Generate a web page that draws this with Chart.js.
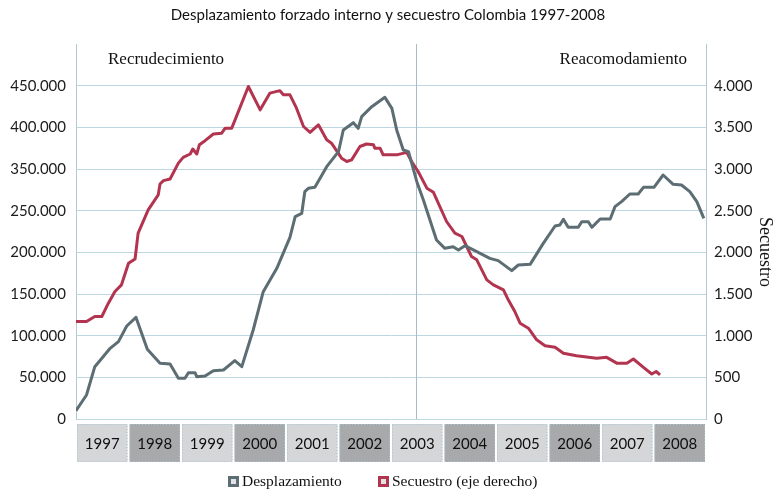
<!DOCTYPE html>
<html>
<head>
<meta charset="utf-8">
<script src="https://cdn.jsdelivr.net/npm/chart.js@4.4.1/dist/chart.umd.min.js"></script>
<style>
  html, body { margin: 0; padding: 0; background: #fff; }
</style>
</head>
<body>
<canvas id="chart" width="776" height="490"></canvas>
<script>
// months counted from Jan 1997 (0) to Dec 2008 (144)
const years = ["1997", "1998", "1999", "2000", "2001", "2002", "2003", "2004", "2005", "2006", "2007", "2008"];

const despMonths = [0, 2.4, 4.3, 6.2, 7.8, 9.7, 11.6, 13.7, 16.3, 19.2, 21.5, 23.4, 24.9, 25.7, 27.2, 27.6, 29.5, 31.4, 33.7, 36.3,
  37.9, 40.5, 42.8, 45.9, 48.9, 50.1, 51.6, 52.3, 53.1, 54.6, 57.3, 60.0, 61.1, 63.4, 64.5, 65.3, 67.6, 70.6, 72.2, 73.3,
  74.8, 76.0, 77.9, 79.4, 82.4, 84.3, 86.2, 87.4, 88.9, 91.6, 94.6, 96.5, 99.6, 101.1, 103.8, 106.8, 109.5, 110.6, 111.4, 112.5,
  114.8, 115.6, 117.1, 117.9, 119.8, 122.1, 123.2, 124.7, 126.6, 128.5, 129.7, 132.1, 134.2, 136.5, 138.4, 140.3, 141.9, 143.5];
const despValues = [10000, 28800, 62800, 74800, 84800, 92800, 111600, 122000, 83600, 66800, 66000, 48800, 48800, 55600, 55600, 50800, 51600, 58000, 58800, 70000,
  62800, 106800, 152800, 180800, 218000, 242800, 246800, 272800, 276800, 278000, 302800, 320800, 346800, 355600, 348800, 362800, 374800, 386000, 372800, 346800,
  322800, 320800, 284800, 262800, 214800, 204800, 206800, 202800, 208000, 200800, 192800, 190000, 178000, 184800, 185600, 210800, 231600, 232800, 239600, 230000,
  230000, 236800, 236800, 230000, 240000, 240000, 254800, 260800, 270000, 270000, 278000, 278000, 292800, 281600, 280800, 272800, 260800, 240800];

const secMonths = [0, 2.4, 4.3, 5.9, 7.4, 8.9, 10.4, 12.0, 13.5, 14.2, 16.5, 18.8, 19.2, 20.0, 21.5, 23.4, 24.5, 26.1, 26.7, 27.6,
  28.2, 29.5, 31.4, 33.3, 34.1, 35.6, 39.4, 42.1, 44.3, 46.6, 47.4, 48.9, 50.4, 52.0, 53.5, 55.4, 57.3, 58.4, 60.7, 61.9,
  63.0, 64.9, 66.4, 68.0, 68.3, 69.5, 70.2, 73.3, 75.6, 76.7, 78.2, 80.2, 81.7, 84.7, 86.6, 88.2, 90.4, 91.6, 93.9, 95.4,
  97.7, 98.8, 100.3, 101.5, 103.4, 105.3, 107.2, 109.5, 111.4, 114.4, 119.0, 121.3, 123.6, 125.9, 127.4, 129.7, 131.6, 132.6, 133.5];
const secValues = [1170, 1170, 1230, 1230, 1390, 1530, 1610, 1870, 1920, 2230, 2510, 2690, 2820, 2860, 2880, 3070, 3140, 3180, 3240, 3180,
  3290, 3340, 3420, 3430, 3490, 3490, 3990, 3710, 3910, 3940, 3890, 3890, 3730, 3510, 3440, 3530, 3350, 3310, 3130, 3090,
  3110, 3270, 3300, 3290, 3250, 3250, 3170, 3170, 3200, 3090, 2970, 2770, 2720, 2370, 2230, 2190, 1950, 1910, 1670, 1610,
  1550, 1430, 1290, 1150, 1090, 950, 880, 860, 790, 760, 730, 740, 670, 670, 720, 620, 540, 570, 530];

// tick labels as printed (the left axis skips 300.000)
const leftLabels = ["0", "50.000", "100.000", "150.000", "200.000", "250.000", "350.000", "400.000", "450.000"];
const rightLabels = ["0", "500", "1.000", "1.500", "2.000", "2.500", "3.000", "3.500", "4.000"];

const dividerMonth = 77.6;
const chartTitle = "Desplazamiento forzado interno y secuestro Colombia 1997-2008";
const leftPeriod = "Recrudecimiento";
const rightPeriod = "Reacomodamiento";
const rightAxisTitle = "Secuestro";

const GREY = "#5c6d73";
const RED = "#b3344f";
const GRID = "#bcd6e2";
const BORDER = "#b3c9d3";
const SERIF = '"Liberation Serif", "Times New Roman", serif';
const SANS = 'Lato, "Open Sans", sans-serif';

const extras = {
  id: "extras",
  beforeDatasetsDraw(chart) {
    const { ctx, chartArea: a, scales: { x } } = chart;
    const px = Math.round(x.getPixelForValue(dividerMonth)) + 0.5;
    ctx.save();
    ctx.strokeStyle = "#a9bcc6";
    ctx.lineWidth = 1;
    ctx.beginPath();
    ctx.moveTo(px, a.top);
    ctx.lineTo(px, a.bottom);
    ctx.stroke();

    ctx.font = "17px " + SERIF;
    ctx.fillStyle = "#111";
    ctx.textBaseline = "middle";
    ctx.textAlign = "left";
    ctx.fillText(leftPeriod, a.left + 32, a.top + 16);
    ctx.textAlign = "right";
    ctx.fillText(rightPeriod, a.right - 19, a.top + 16);
    ctx.restore();
  },
  afterDraw(chart) {
    const { ctx, chartArea: a, scales: { x } } = chart;
    ctx.save();
    // year boxes under the plot
    const top = a.bottom + 5, h = 38;
    years.forEach((yr, i) => {
      const x0 = x.getPixelForValue(i * 12) + 1;
      const x1 = x.getPixelForValue((i + 1) * 12) - 1;
      ctx.fillStyle = i % 2 ? "#a7a9ab" : "#d4d6d8";
      ctx.fillRect(x0, top, x1 - x0, h);
      ctx.strokeStyle = "#a8c3d1";
      ctx.lineWidth = 1;
      ctx.setLineDash([1, 2]);
      ctx.strokeRect(x0 + 0.5, top + 0.5, x1 - x0 - 1, h - 1);
      ctx.setLineDash([]);
      ctx.fillStyle = "#0f0f0f";
      ctx.font = "15px " + SANS;
      ctx.textAlign = "center";
      ctx.textBaseline = "middle";
      ctx.fillText(yr, (x0 + x1) / 2, top + h / 2 + 1);
    });

    // right axis title, reading downwards
    ctx.save();
    ctx.translate(765, 252);
    ctx.rotate(Math.PI / 2);
    ctx.font = "18px " + SERIF;
    ctx.fillStyle = "#111";
    ctx.textAlign = "center";
    ctx.textBaseline = "middle";
    ctx.fillText(rightAxisTitle, 0, 0);
    ctx.restore();

    // legend
    const items = [
      { text: "Desplazamiento", color: GREY, x: 228 },
      { text: "Secuestro (eje derecho)", color: RED, x: 378 }
    ];
    ctx.font = "15.5px " + SERIF;
    ctx.textAlign = "left";
    ctx.textBaseline = "middle";
    items.forEach(it => {
      ctx.fillStyle = "#e2e2e2";
      ctx.fillRect(it.x, 476, 11, 11);
      ctx.strokeStyle = it.color;
      ctx.lineWidth = 3;
      ctx.strokeRect(it.x + 1.5, 477.5, 8, 8);
      ctx.fillStyle = "#111";
      ctx.fillText(it.text, it.x + 14, 482);
    });
    ctx.restore();
  }
};

new Chart(document.getElementById("chart"), {
  type: "line",
  data: {
    datasets: [
      {
        label: "Desplazamiento",
        data: despMonths.map((m, i) => ({ x: m, y: despValues[i] })),
        yAxisID: "y",
        borderColor: GREY,
        borderWidth: 3,
        pointRadius: 0,
        tension: 0,
        borderJoinStyle: "round"
      },
      {
        label: "Secuestro (eje derecho)",
        data: secMonths.map((m, i) => ({ x: m, y: secValues[i] })),
        yAxisID: "y2",
        borderColor: RED,
        borderWidth: 3,
        pointRadius: 0,
        tension: 0,
        borderJoinStyle: "round"
      }
    ]
  },
  options: {
    responsive: false,
    animation: false,
    layout: { padding: { top: 0, bottom: 71, left: 0, right: 0 } },
    plugins: {
      legend: { display: false },
      tooltip: { enabled: false },
      title: {
        display: true,
        text: chartTitle,
        color: "#111",
        font: { family: SANS, size: 15, weight: "normal" },
        padding: { top: 6, bottom: 20 }
      }
    },
    scales: {
      x: { type: "linear", min: 0, max: 144, display: false },
      y: {
        position: "left",
        min: 0,
        max: 450000,
        afterFit: s => { s.width = 76; },
        ticks: {
          stepSize: 50000,
          padding: 10,
          color: "#1c1c1c",
          font: { family: SANS, size: 15 },
          callback: v => leftLabels[Math.round(v / 50000)] || ""
        },
        grid: {
          drawTicks: false,
          color: c => (c.tick && c.tick.value >= 450000 ? "rgba(0,0,0,0)" : GRID)
        },
        border: { display: true, color: BORDER }
      },
      y2: {
        position: "right",
        min: 0,
        max: 4500,
        afterFit: s => { s.width = 70; },
        ticks: {
          stepSize: 500,
          padding: 8,
          color: "#1c1c1c",
          font: { family: SANS, size: 15 },
          callback: v => rightLabels[Math.round(v / 500)] || ""
        },
        grid: { display: false, drawTicks: false },
        border: { display: true, color: BORDER }
      }
    }
  },
  plugins: [extras]
});
</script>
</body>
</html>
